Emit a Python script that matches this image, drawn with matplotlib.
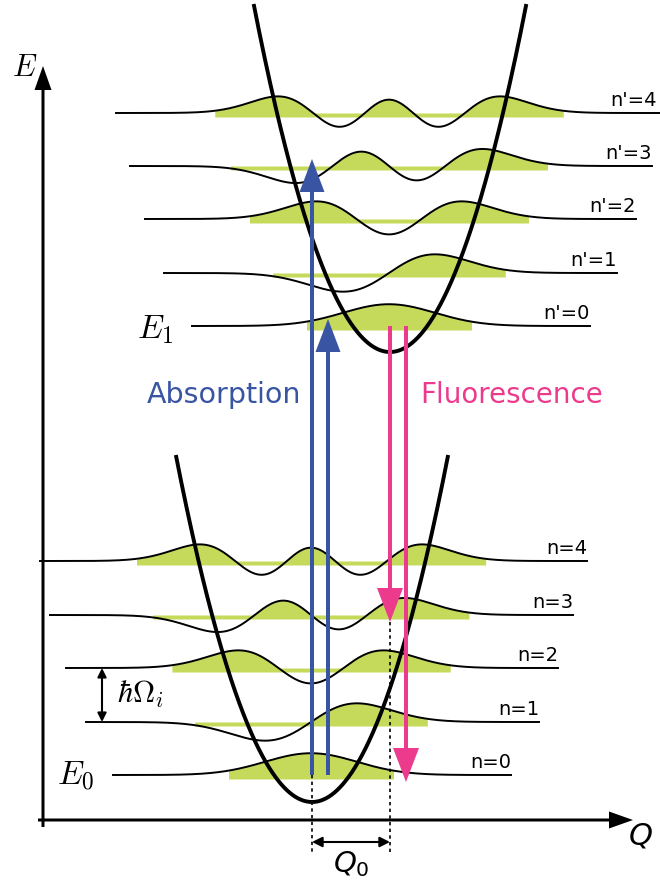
import numpy as np
import matplotlib
matplotlib.use("Agg")
import matplotlib.pyplot as plt
from math import factorial, pi
from numpy.polynomial.hermite import hermval

# level data, pixel units of the original diagram (y grows downward)
quantum_n = [0, 1, 2, 3, 4]
ground_y = [775, 722, 668, 615, 561]
excited_y = [326, 273, 219, 166, 113]
ground_left = [113, 86, 66, 50, 40]
ground_right = [511, 539, 558, 573, 587]
excited_left = [192, 164, 145, 130, 116]
excited_right = [590, 617, 636, 652, 660]
ground_labels = ["n=0", "n=1", "n=2", "n=3", "n=4"]
excited_labels = ["n'=0", "n'=1", "n'=2", "n'=3", "n'=4"]

# potential wells: centre x, bottom y, top y
ground_well = (312, 802, 455)
excited_well = (390, 352, 4)
curv = 0.01872

# transitions: (from level, to level, x position)
absorption = [(0, 3, 312), (0, 0, 328)]
fluorescence = [(0, 3, 390), (0, 0, 406)]

wave_unit = 46.0
wave_amp = 29.0
green = "#c5da5a"
blue = "#3a54a4"
pink = "#ec3a8c"

fig = plt.figure(figsize=(6.6, 8.81), dpi=100)
ax = fig.add_axes([0, 0, 1, 1])
ax.set_xlim(0, 660)
ax.set_ylim(881, 0)
ax.axis("off")


def psi(n, xi):
    c = np.zeros(n + 1)
    c[n] = 1
    norm = 1.0 / np.sqrt(2 ** n * factorial(n) * np.sqrt(pi))
    return norm * hermval(xi, c) * np.exp(-xi ** 2 / 2)


def draw_levels(ys, lefts, rights, labels, centre):
    for n, y0, xl, xr, lab in zip(quantum_n, ys, lefts, rights, labels):
        x = np.linspace(xl, xr, 800)
        xi = (x - centre) / wave_unit
        w = y0 - wave_amp * psi(n, xi)
        m = np.abs(xi) < np.sqrt(2 * n + 1) + 0.8
        ax.fill_between(x, y0 + 4, np.minimum(w, y0), where=m,
                        color=green, lw=0, zorder=1)
        ax.plot(x, w, color="black", lw=1.4, zorder=2)
        ax.text(min(xr, 657), y0 - 3, lab, ha="right", va="bottom", fontsize=14,
                family="DejaVu Sans", zorder=3)


def draw_well(well):
    cx, ybot, ytop = well
    d = np.sqrt((ybot - ytop) / curv)
    x = np.linspace(cx - d, cx + d, 400)
    ax.plot(x, ybot - curv * (x - cx) ** 2, color="black", lw=2.8,
            zorder=4, solid_capstyle="butt")


draw_levels(ground_y, ground_left, ground_right, ground_labels, ground_well[0] - 1)
draw_levels(excited_y, excited_left, excited_right, excited_labels, excited_well[0] - 1)
draw_well(ground_well)
draw_well(excited_well)

# axes
ax.arrow(43, 827, 0, 66 - 827, width=3, head_width=17, head_length=24,
         length_includes_head=True, color="black", lw=0, zorder=5)
ax.arrow(38, 820, 633 - 38, 0, width=3, head_width=17, head_length=24,
         length_includes_head=True, color="black", lw=0, zorder=5)
ax.text(25, 68, "$E$", fontsize=22, math_fontfamily="cm", ha="center", va="center")
ax.text(640, 836, "$Q$", fontsize=22, math_fontfamily="dejavusans",
        ha="center", va="center")

# transitions
for a, b, x in absorption:
    y1, y2 = ground_y[a], excited_y[b] - 7
    ax.arrow(x, y1, 0, y2 - y1, width=4, head_width=25, head_length=33,
             length_includes_head=True, color=blue, lw=0, zorder=6)
for a, b, x in fluorescence:
    y1, y2 = excited_y[a], ground_y[b] + 7
    ax.arrow(x, y1, 0, y2 - y1, width=4, head_width=26, head_length=34,
             length_includes_head=True, color=pink, lw=0, zorder=6)

ax.text(224, 395, "Absorption", color=blue, fontsize=20.5, ha="center",
        va="center", family="DejaVu Sans")
ax.text(512, 395, "Fluorescence", color=pink, fontsize=20, ha="center",
        va="center", family="DejaVu Sans")

# displacement Q0
ax.plot([ground_well[0]] * 2, [ground_y[0], 855], color="black", lw=1.2,
        ls=(0, (2, 2)), zorder=3)
ax.plot([excited_well[0]] * 2, [ground_y[3] + 7, 855], color="black", lw=1.2,
        ls=(0, (2, 2)), zorder=3)
ax.annotate("", xy=(excited_well[0], 842), xytext=(ground_well[0], 842),
            arrowprops=dict(arrowstyle="<|-|>", color="black", lw=1.5,
                            mutation_scale=15, shrinkA=0, shrinkB=0))
ax.text(351, 864, "$Q_0$", fontsize=21, math_fontfamily="dejavusans",
        ha="center", va="center")

# level spacing
ax.annotate("", xy=(102, ground_y[1]), xytext=(102, ground_y[2]),
            arrowprops=dict(arrowstyle="<|-|>", color="black", lw=1.5,
                            mutation_scale=13, shrinkA=0, shrinkB=0))
ax.text(140, 694, r"$\hbar\Omega_i$", fontsize=22, math_fontfamily="cm",
        ha="center", va="center")

ax.text(76, 775, "$E_0$", fontsize=24, math_fontfamily="cm", ha="center", va="center")
ax.text(155, 330, "$E_1$", fontsize=24, math_fontfamily="cm", ha="center", va="center")

fig.savefig("out.png", dpi=100)
